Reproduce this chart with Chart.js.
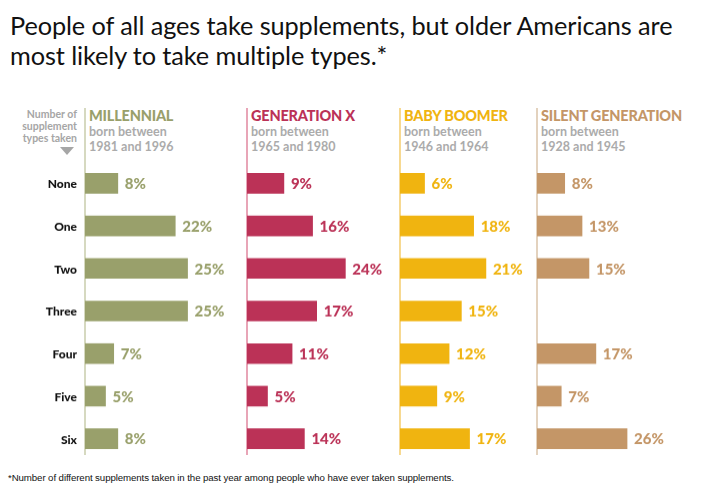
<!DOCTYPE html>
<html>
<head>
<meta charset="utf-8">
<script src="https://cdn.jsdelivr.net/npm/chart.js@4.4.1/dist/chart.umd.min.js"></script>
<style>
  body { margin: 0; background: #fff; width: 701px; height: 498px; overflow: hidden; position: relative; font-family: Lato, "Noto Sans", sans-serif; }
  #title { position: absolute; left: 10px; top: 10px; font-size: 25.3px; line-height: 30px; color: #111; letter-spacing: -0.1px; white-space: nowrap; }
  .panel { position: absolute; top: 108px; height: 347px; border-left: 2px solid; white-space: nowrap; }
  .panel h3 { margin: 0; padding-left: 3px; font-size: 14.5px; font-weight: 900; letter-spacing: -0.2px; line-height: 16px; }
  .panel .sub { padding-left: 3px; font-size: 12.5px; font-weight: 700; color: #ababab; line-height: 15px; }
  #rowhead { position: absolute; left: 0; width: 77px; top: 108px; text-align: right; font-size: 10.5px; line-height: 12px; color: #a6a6a6; font-weight: 700; }
  #tri { position: absolute; left: 60px; top: 147px; width: 0; height: 0; border-left: 7px solid transparent; border-right: 7px solid transparent; border-top: 8px solid #a6a6a6; }
  canvas { position: absolute; }
  #note { position: absolute; left: 8px; top: 472px; font-size: 9.7px; color: #111; font-family: "Liberation Sans Narrow", "Liberation Sans", sans-serif; letter-spacing: -0.1px; }
</style>
</head>
<body>
<div id="title">People of all ages take supplements, but older Americans are<br>most likely to take multiple types.*</div>
<div id="rowhead">Number of<br>supplement<br>types taken</div>
<div id="tri"></div>
<div id="panels"></div>
<div id="note">*Number of different supplements taken in the past year among people who have ever taken supplements.</div>
<script>
// data
const categories = ['None', 'One', 'Two', 'Three', 'Four', 'Five', 'Six'];
const generations = ['MILLENNIAL', 'GENERATION X', 'BABY BOOMER', 'SILENT GENERATION'];
const bornRanges = ['1981 and 1996', '1965 and 1980', '1946 and 1964', '1928 and 1945'];
const millennial = [8, 22, 25, 25, 7, 5, 8];
const genX = [9, 16, 24, 17, 11, 5, 14];
const boomer = [6, 18, 21, 15, 12, 9, 17];
const silent = [8, 13, 15, null, 17, 7, 26];

const series = [millennial, genX, boomer, silent];
const colors = ['#99a06b', '#bb3257', '#f0b410', '#c49667'];
const lineColors = ['#d6d9c0', '#e8a5b7', '#f7d991', '#e3d2be'];

// layout of each panel: axis line x, canvas left, canvas width, x max
const panelX = [85, 247, 400, 537];
const canvasLeft = [0, 247, 400, 537];
const canvasWidth = [245, 150, 135, 160];
const padLeft = [85, 0, 0, 0];
const xMax = [39, 36.6, 33, 46.2];

const top0 = 161.6, bandH = 42.7;

const valueLabels = {
  id: 'valueLabels',
  afterDatasetsDraw(chart) {
    const ctx = chart.ctx;
    const ds = chart.data.datasets[0];
    const meta = chart.getDatasetMeta(0);
    ctx.save();
    ctx.font = '900 15px Lato, "Noto Sans", sans-serif';
    ctx.fillStyle = ds.backgroundColor;
    ctx.textBaseline = 'middle';
    meta.data.forEach((bar, i) => {
      if (ds.data[i] == null) return;
      ctx.fillText(ds.data[i] + '%', bar.x + 7, bar.y + 1);
    });
    ctx.restore();
  }
};

// row labels for the first panel, placed on the category scale
const rowLabels = {
  id: 'rowLabels',
  afterDraw(chart, args, opts) {
    if (!opts.show) return;
    const ctx = chart.ctx;
    const y = chart.scales.y;
    ctx.save();
    ctx.font = '900 12px Lato, "Noto Sans", sans-serif';
    ctx.fillStyle = '#111';
    ctx.textAlign = 'right';
    ctx.textBaseline = 'middle';
    chart.data.labels.forEach((lab, i) => {
      ctx.fillText(lab, chart.chartArea.left - 8, y.getPixelForValue(i) + 1);
    });
    ctx.restore();
  }
};

const holder = document.getElementById('panels');
series.forEach((vals, p) => {
  const div = document.createElement('div');
  div.className = 'panel';
  div.style.left = (panelX[p] - 1) + 'px';
  div.style.width = '150px';
  div.style.borderColor = lineColors[p];
  div.innerHTML = '<h3 style="color:' + colors[p] + '">' + generations[p] + '</h3>' +
    '<div class="sub">born between<br>' + bornRanges[p] + '</div>';
  holder.appendChild(div);

  const canvas = document.createElement('canvas');
  canvas.style.left = canvasLeft[p] + 'px';
  canvas.style.top = top0 + 'px';
  canvas.style.width = canvasWidth[p] + 'px';
  canvas.style.height = (bandH * 7) + 'px';
  canvas.width = canvasWidth[p];
  canvas.height = Math.round(bandH * 7);
  document.body.appendChild(canvas);

  new Chart(canvas, {
    type: 'bar',
    data: {
      labels: categories,
      datasets: [{
        data: vals,
        backgroundColor: colors[p],
        borderWidth: 0,
        barThickness: 20
      }]
    },
    options: {
      indexAxis: 'y',
      responsive: false,
      animation: false,
      layout: { padding: { left: padLeft[p], right: 0, top: 0, bottom: 0 } },
      plugins: {
        legend: { display: false },
        tooltip: { enabled: false },
        rowLabels: { show: p === 0 }
      },
      scales: {
        x: { display: false, min: 0, max: xMax[p] },
        y: { display: false }
      }
    },
    plugins: [valueLabels, rowLabels]
  });
});
</script>
</body>
</html>
